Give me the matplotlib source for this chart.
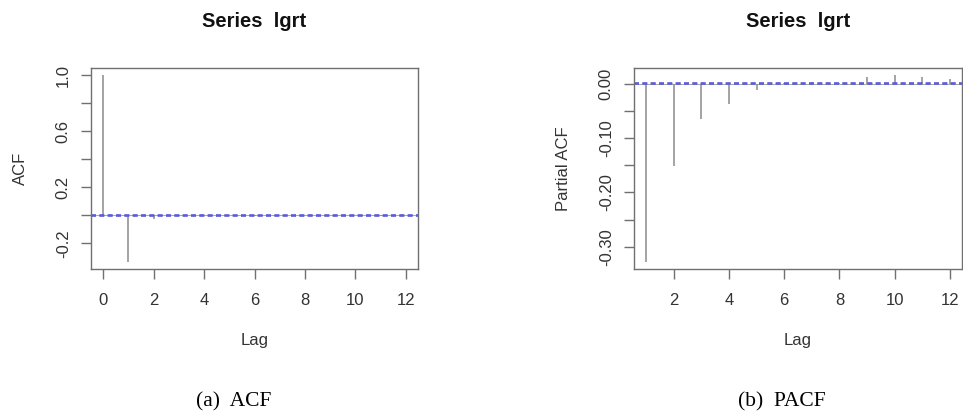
import matplotlib
matplotlib.use("Agg")
import matplotlib.pyplot as plt
import numpy as np

# ACF values (lags 0..12)
acf_lags = np.arange(0, 13)
acf_vals = [1.0, -0.33, -0.025, -0.003, 0.002, 0.003, -0.002, 0.002, 0.001, 0.004, 0.002, -0.001, 0.001]

# PACF values (lags 1..12)
pacf_lags = np.arange(1, 13)
pacf_vals = [-0.327, -0.152, -0.065, -0.037, -0.012, 0.002, 0.003, 0.001, 0.012, 0.015, 0.012, 0.008]

ci = 0.0015  # confidence band, basically on the zero line

acf_ticks = [1.0, 0.8, 0.6, 0.4, 0.2, 0.0, -0.2]
acf_ticklabels = ["1.0", "", "0.6", "", "0.2", "", "-0.2"]
pacf_ticks = [0.0, -0.05, -0.10, -0.15, -0.20, -0.25, -0.30]
pacf_ticklabels = ["0.00", "", "-0.10", "", "-0.20", "", "-0.30"]

plt.rcParams['font.family'] = ['Liberation Sans', 'DejaVu Sans']

fig = plt.figure(figsize=(9.63, 4.19), dpi=100)
W, H = 963, 419

def r_axes(l, t, r, b):
    return fig.add_axes([l / W, 1 - b / H, (r - l) / W, (b - t) / H])

def style(ax, lags, vals, yticks, ylabels, ylabel):
    ax.vlines(lags, 0, vals, color="#8a8a8a", lw=1.1)
    ax.axhline(ci, color="#5a5ad8", ls=(0, (3, 2)), lw=1.2)
    ax.axhline(-ci, color="#5a5ad8", ls=(0, (3, 2)), lw=1.2)
    ax.axhline(0, color="#9a9a9a", lw=0.6, zorder=0)
    lo, hi = min(min(vals), 0), max(max(vals), 0)
    pad = 0.04 * (hi - lo)
    ax.set_ylim(lo - pad, hi + pad)
    xpad = 0.04 * (lags[-1] - lags[0])
    ax.set_xlim(lags[0] - xpad, lags[-1] + xpad)
    ax.set_yticks(yticks)
    ax.set_yticklabels(ylabels, rotation=90, va="center")
    ax.set_xticks([x for x in range(0, 13, 2) if x >= lags[0]])
    for s in ax.spines.values():
        s.set_color("#707070")
        s.set_linewidth(1.0)
    ax.tick_params(direction="out", length=7, width=1.0, color="#707070",
                   labelsize=12, labelcolor="#333333")
    ax.tick_params(axis="x", pad=10)
    ax.tick_params(axis="y", pad=7.5)
    ax.set_title("Series  lgrt", fontsize=14.5, fontweight="bold", pad=29.5, color="#111111")
    ax.set_xlabel("Lag", fontsize=12, labelpad=18, color="#333333")
    ax.set_ylabel(ylabel, fontsize=12, labelpad=20, color="#333333")

ax1 = r_axes(91, 68, 418, 269)
style(ax1, acf_lags, acf_vals, acf_ticks, acf_ticklabels, "ACF")

ax2 = r_axes(634, 68, 962, 269)
style(ax2, pacf_lags, pacf_vals, pacf_ticks, pacf_ticklabels, "Partial ACF")

fig.text(234 / W, 1 - 402 / H, "(a)  ACF", ha="center", va="center",
         family="Liberation Serif", fontsize=15.5)
fig.text(782 / W, 1 - 402 / H, "(b)  PACF", ha="center", va="center",
         family="Liberation Serif", fontsize=15.5)

fig.savefig("out.png", dpi=100)
